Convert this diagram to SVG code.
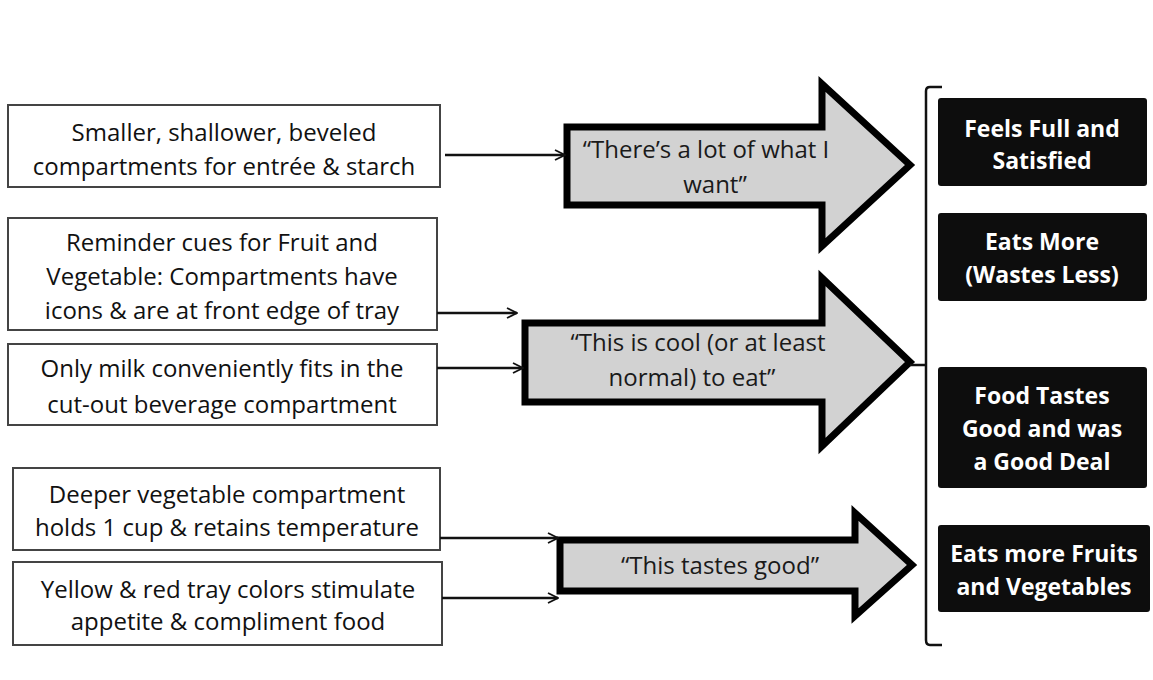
<svg xmlns="http://www.w3.org/2000/svg" width="1153" height="680" viewBox="0 0 1153 680">
<style>
.lb{fill:#fff;stroke:#444;stroke-width:2}
.lt{font-family:"Open Sans",Lato,sans-serif;font-size:24px;fill:#111;text-anchor:middle}
.big{fill:#d2d2d2;stroke:#000;stroke-width:7;stroke-linejoin:miter}
.at{font-family:"Open Sans",Lato,sans-serif;font-size:24px;fill:#1a1a1a;text-anchor:middle}
.rb{fill:#0d0d0d}
.rt{font-family:"Open Sans",Lato,sans-serif;font-size:23px;font-weight:bold;fill:#fff;text-anchor:middle}
.conn{stroke:#111;stroke-width:2.5;fill:none}
</style>
<defs>
<marker id="ah" viewBox="0 0 10 10" refX="9" refY="5" markerWidth="5" markerHeight="5" orient="auto" markerUnits="strokeWidth">
<path d="M1,1 L9,5 L1,9" fill="none" stroke="#111" stroke-width="1.5"/>
</marker>
</defs>
<rect width="1153" height="680" fill="#fff"/>

<g id="box1"><rect class="lb" x="8" y="105" width="432" height="82"/>
<text class="lt" x="224" y="141">Smaller, shallower, beveled</text>
<text class="lt" x="224" y="175">compartments for entrée &amp; starch</text></g>

<g id="box2"><rect class="lb" x="8" y="218" width="429" height="112"/>
<text class="lt" x="222" y="251">Reminder cues for Fruit and</text>
<text class="lt" x="222" y="285">Vegetable: Compartments have</text>
<text class="lt" x="222" y="319">icons &amp; are at front edge of tray</text></g>

<g id="box3"><rect class="lb" x="8" y="344" width="429" height="81"/>
<text class="lt" x="222" y="377">Only milk conveniently fits in the</text>
<text class="lt" x="222" y="413">cut-out beverage compartment</text></g>

<g id="box4"><rect class="lb" x="13" y="468" width="427" height="82"/>
<text class="lt" x="227" y="503">Deeper vegetable compartment</text>
<text class="lt" x="227" y="536">holds 1 cup &amp; retains temperature</text></g>

<g id="box5"><rect class="lb" x="13" y="562" width="429" height="83"/>
<text class="lt" x="228" y="598">Yellow &amp; red tray colors stimulate</text>
<text class="lt" x="228" y="630">appetite &amp; compliment food</text></g>

<g id="arrow1"><path class="big" d="M567,127 H822 V84 L910,165 L822,246 V205 H567 Z"/>
<text class="at" x="706" y="158">“There’s a lot of what I</text>
<text class="at" x="715" y="193">want”</text></g>

<g id="arrow2"><path class="big" d="M525,323 H822 V278 L910,362 L822,446 V402 H525 Z"/>
<text class="at" x="698" y="351">“This is cool (or at least</text>
<text class="at" x="692" y="386">normal) to eat”</text></g>

<g id="arrow3"><path class="big" d="M560,540 H855 V513 L912,565 L855,616 V591 H560 Z"/>
<text class="at" x="720" y="574">“This tastes good”</text></g>

<g id="out1"><rect class="rb" x="938" y="98" width="209" height="88" rx="3"/>
<text class="rt" x="1042" y="137">Feels Full and</text>
<text class="rt" x="1042" y="169">Satisfied</text></g>

<g id="out2"><rect class="rb" x="938" y="213" width="209" height="88" rx="3"/>
<text class="rt" x="1042" y="250">Eats More</text>
<text class="rt" x="1042" y="283">(Wastes Less)</text></g>

<g id="out3"><rect class="rb" x="938" y="367" width="209" height="121" rx="3"/>
<text class="rt" x="1042" y="404">Food Tastes</text>
<text class="rt" x="1042" y="437">Good and was</text>
<text class="rt" x="1042" y="470">a Good Deal</text></g>

<g id="out4"><rect class="rb" x="938" y="525" width="212" height="87" rx="3"/>
<text class="rt" x="1044" y="562">Eats more Fruits</text>
<text class="rt" x="1044" y="595">and Vegetables</text></g>

<g id="connectors">
<line class="conn" x1="445" y1="155" x2="565" y2="155" marker-end="url(#ah)"/>
<line class="conn" x1="437" y1="313" x2="517" y2="313" marker-end="url(#ah)"/>
<line class="conn" x1="437" y1="368" x2="523" y2="368" marker-end="url(#ah)"/>
<line class="conn" x1="440" y1="538" x2="558" y2="538" marker-end="url(#ah)"/>
<line class="conn" x1="442" y1="598" x2="558" y2="598" marker-end="url(#ah)"/>
<path d="M942,87 H930 Q926,87 926,91 V640 Q926,645 930,645 H942 M926,365 H910" fill="none" stroke="#111" stroke-width="2.5"/>
</g>
</svg>
